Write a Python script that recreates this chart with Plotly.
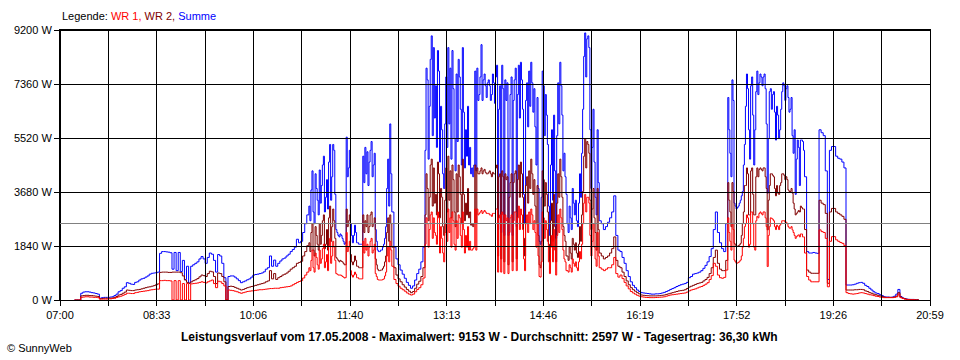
import pandas as pd
import plotly.graph_objects as go

N = None

# Main series: one value every 2 minutes from 07:00
START = "2008-05-17 07:00"
STEP_MIN = 2

WR1 = [
    N, N, N, N, N, N, N, 0, 0, 0,
    90, 100, 110, 110, 100, 100, 90, 90, 80, 30,
    30, 30, 30, 40, 40, 50, 60, 90, 110, 130,
    160, 190, 230, 230, 220, 220, 250, 260, 280, 290,
    300, 310, 320, 340, 350, 360, 370, 370, 660, 660,
    670, 660, 660, 650, 0, 660, 0, 660, 0, 560,
    0, 560, 0, 550, 560, 570, 580, 600, 620, 600,
    580, 620, 650, 680, 560, 420, 640, 620, 560, 480,
    0, 340, 330, 320, 300, 280, 250, 230, 250, 270,
    290, 300, 310, 320, 330, 340, 350, 350, 360, 370,
    380, 390, 390, 400, 400, 400, 420, 430, 440, 450,
    460, 480, 520, 560, 600, 630, 660, 750, 850, 950,
    1100, 1350, 1100, 1600, 1200, 1700, 1400, 1900, 1300, 1000,
    2100, 1500, 1800, 900, 850, 850, 800, 750, 2300, 1800,
    1000, 780, 950, 760, 720, 720, 2000, 2100, 1900, 1800,
    2100, 1700, 900, 700, 680, 680, 720, 950, 1800, 2000,
    1150, 700, 560, 470, 400, 350, 300, 240, 200, 170,
    200, 280, 360, 420, 520, 750, 1900, 2600, 2400, 3000,
    2800, 2200, 3000, 1600, 2100, 1300, 2600, 3100, 2800, 3000,
    1900, 2700, 2900, 2200, 3000, 1600, 1800, 1700, 1700, 1750,
    3100, 3100, 2950, 3050, 3000, 3000, 2950, 2900, 2850, 2950,
    3100, 950, 2900, 3000, 900, 2700, 900, 2800, 1000, 3000,
    1000, 3200, 3100, 2400, 1000, 2900, 3000, 3100, 2400, 2300,
    2600, 800, 1300, 2800, 2700, 2000, 900, 2200, 2400, 850,
    2900, 3100, 2400, 1400, 1000, 950, 1100, 1400, 1150, 1100,
    1300, 1400, 2600, 3600, 3500, 3300, 1500, 2600, 1400, 2300,
    1100, 1050, 1000, 1050, 1100, 1100, 1200, 1450, 900, 780,
    850, 730, 600, 480, 380, 290, 240, 200, 160, 130,
    110, 100, 90, 85, 80, 80, 80, 85, 90, 95,
    100, 110, 130, 150, 170, 180, 190, 200, 210, 220,
    230, 240, 270, 310, 340, 360, 380, 410, 440, 460,
    500, 540, 590, 700, 830, 1250, 1150, 850, 760, 740,
    770, 1020, 2800, 2000, 2600, 1360, 1250, 1280, 1360, 1800,
    2500, 2900, 1800, 3000, 2600, 1700, 2850, 2950, 2950, 3000,
    2800, 1140, 2500, 2780, 2700, 2400, 2500, 2550, 2700, 2700,
    2650, 2500, 2450, 2390, 2200, 2160, 2220, 2250, 2150, 1600,
    800, 680, 620, 620, 620, 620, 2390, 2330, 2300, 2100,
    450, 2000, 2160, 2160, 2050, 2000, 1960, 1930, 1850, 250,
    220, 210, 200, 210, 220, 240, 250, 240, 220, 200,
    180, 170, 150, 130, 120, 100, 90, 80, 80, 80,
    80, 80, 90, 110, 200, 80, 50, 30, 20, 10,
    10, 10, 0, 0, 0, N, N, N, N, N,
]

WR2 = [
    N, N, N, N, N, N, N, 0, 0, 0,
    140, 150, 160, 160, 150, 150, 140, 130, 120, 40,
    50, 60, 60, 60, 60, 70, 90, 120, 170, 190,
    230, 270, 340, 330, 320, 320, 340, 350, 360, 380,
    400, 420, 440, 450, 470, 490, 520, 550, 940, 950,
    950, 950, 940, 940, 950, 950, 950, 950, 930, 820,
    680, 600, 570, 620, 660, 690, 730, 790, 850, 830,
    800, 900, 980, 960, 800, 560, 920, 900, 800, 620,
    0, 460, 470, 460, 430, 400, 370, 340, 360, 390,
    420, 440, 460, 480, 500, 520, 540, 560, 580, 620,
    650, 1000, 720, 900, 700, 760, 800, 850, 880, 920,
    980, 1050, 1100, 1150, 1250, 1280, 1320, 1500, 1650, 1850,
    1950, 2300, 1700, 2500, 1900, 2600, 2200, 2900, 1900, 1700,
    3200, 2500, 2700, 1450, 1350, 1350, 1300, 1200, 3100, 2700,
    1550, 1200, 1500, 1150, 1100, 1100, 2900, 2700, 2900, 2500,
    3000, 2600, 1400, 1050, 1000, 1020, 1150, 1500, 2800, 2900,
    1800, 1100, 850, 720, 620, 520, 440, 360, 300, 250,
    290, 400, 540, 640, 800, 1100, 2900, 3800, 3500, 4800,
    4500, 3600, 4700, 2800, 3500, 2200, 4500, 4900, 4400, 4600,
    3000, 4300, 4600, 3600, 4800, 2700, 2900, 2800, 2550, 2500,
    4600, 4500, 4300, 4500, 4400, 4350, 4300, 4400, 4200, 4300,
    4500, 1500, 4300, 4400, 1300, 4100, 1200, 4000, 1300, 4300,
    1400, 4600, 4700, 3500, 1500, 4200, 4400, 4800, 3600, 3200,
    3900, 1200, 2000, 4100, 4000, 3000, 1300, 3300, 3600, 1300,
    4300, 4800, 3500, 2200, 1500, 1350, 1600, 2100, 1700, 1600,
    1900, 2000, 3700, 5500, 5400, 5000, 2400, 3800, 2300, 3800,
    1600, 1500, 1400, 1450, 1500, 1600, 1750, 2150, 1350, 1150,
    1100, 950, 800, 650, 520, 420, 350, 300, 250, 210,
    170, 160, 150, 145, 140, 140, 140, 140, 145, 150,
    160, 170, 190, 210, 230, 250, 270, 290, 310, 320,
    330, 350, 390, 440, 470, 500, 530, 560, 580, 600,
    650, 700, 770, 900, 1100, 1450, 1700, 1250, 1050, 1000,
    1000, 1350, 4000, 3000, 4000, 1930, 1820, 1850, 1930, 2600,
    3900, 4500, 2900, 4400, 3600, 2900, 4500, 4450, 4450, 4500,
    4200, 2390, 3900, 4300, 4200, 3550, 3640, 3900, 4300, 4250,
    4200, 3750, 3700, 3640, 3100, 2950, 3050, 3200, 3100, 2400,
    1020, 950, 910, 910, 910, 910, 3400, 3300, 3250, 2950,
    570, 3000, 3120, 3120, 3000, 2950, 2900, 2850, 2750, 340,
    340, 340, 340, 350, 350, 360, 360, 350, 310, 290,
    250, 230, 200, 180, 160, 140, 120, 100, 90, 90,
    90, 90, 100, 130, 250, 100, 60, 40, 20, 20,
    10, 10, 10, 10, 0, N, N, N, N, N,
]

SUMME = [
    N, N, N, N, N, N, N, 0, 0, 0,
    230, 270, 280, 280, 270, 250, 240, 220, 200, 60,
    80, 90, 90, 90, 100, 110, 150, 200, 280, 320,
    400, 450, 590, 570, 540, 530, 600, 620, 680, 720,
    740, 780, 820, 880, 910, 920, 930, 950, 1590, 1650,
    1650, 1640, 1630, 1610, 1050, 1620, 1000, 1620, 970, 1350,
    700, 1150, 580, 1150, 1200, 1250, 1300, 1400, 1480, 1400,
    1250, 1450, 1600, 1560, 1350, 950, 1550, 1500, 1250, 760,
    0, 800, 820, 820, 780, 720, 660, 590, 620, 650,
    690, 720, 780, 850, 870, 880, 900, 920, 960, 1050,
    1100, 1500, 1150, 1360, 1150, 1250, 1330, 1400, 1430, 1500,
    1560, 1650, 1720, 1800, 2070, 1950, 2000, 2300, 2600, 2900,
    3200, 3750, 3000, 4300, 3400, 4430, 3900, 4900, 3500, 3100,
    5300, 4200, 5100, 2400, 2200, 2250, 2100, 1900, 5550, 4500,
    2600, 1950, 2550, 1950, 1900, 1900, 4900, 5200, 5050, 4700,
    5400, 4600, 2400, 1700, 1650, 1700, 1900, 2500, 4800, 6000,
    3000, 1800, 1400, 1200, 1020, 880, 740, 600, 500, 400,
    480, 680, 900, 1050, 1300, 1800, 5100, 7500, 6600, 9000,
    8600, 7300, 8500, 4700, 5800, 3800, 7600, 8600, 7900, 8500,
    5500, 7700, 8200, 6500, 8600, 4500, 4900, 4600, 4300, 4200,
    7800, 7900, 7000, 8700, 7500, 7300, 7400, 7300, 7000, 7400,
    7600, 2400, 7300, 8000, 2200, 6800, 2200, 7000, 2200, 7500,
    2500, 8000, 8100, 6500, 2600, 7400, 7800, 8100, 6400, 5900,
    6900, 2000, 3500, 7300, 7000, 5300, 2200, 5800, 6300, 2100,
    7400, 8100, 6300, 5000, 3600, 2300, 2800, 3800, 2900, 2700,
    3300, 3500, 6500, 9100, 8900, 8600, 3800, 6500, 3500, 5800,
    2700, 2600, 2400, 2500, 2650, 2800, 3000, 3550, 2200, 1700,
    1650, 1450, 1250, 1000, 800, 620, 500, 420, 340, 290,
    250, 240, 230, 220, 210, 200, 200, 210, 210, 220,
    240, 260, 290, 320, 360, 390, 420, 460, 490, 520,
    540, 560, 600, 760, 800, 880, 900, 920, 950, 1000,
    1080, 1180, 1300, 1480, 1750, 2400, 3000, 2300, 1950, 1750,
    1650, 2600, 6900, 5000, 7500, 3300, 3100, 3200, 3400, 3700,
    5300, 7700, 5800, 7300, 6300, 5800, 7800, 7400, 7600, 7600,
    7200, 3640, 7100, 6500, 7100, 5450, 6300, 5800, 7100, 7300,
    7200, 6900, 6500, 5600, 5800, 4800, 5200, 5450, 5400, 4200,
    1650, 1600, 1600, 1620, 1600, 1590, 5800, 5700, 5600, 4400,
    700, 5100, 5230, 5230, 4900, 4830, 4800, 4700, 4500, 510,
    510, 510, 520, 540, 570, 590, 600, 570, 500, 460,
    400, 340, 280, 240, 220, 180, 150, 110, 100, 100,
    90, 100, 130, 200, 360, 120, 70, 50, 30, 20,
    20, 20, 10, 10, 10, N, N, N, N, N,
]

# Extra readings at the odd minutes inside the three very spiky stretches
# (every 2 minutes, starting at the given time)
DENSE_1_START = "11:01"
DENSE_1_WR1 = [
    1000, 1700, 950, 1450, 1050, 1250, 1750, 1100, 1550, 1850,
    1250, 2000, 1350, 880, 850, 840, 780, 760, 1650, 2000,
    850, 850, 880, 760, 720, 720, 1600, 1700, 1500, 2000,
    1600, 1900, 800, 680, 680, 700, 820, 1500, 1300, 1700,
]
DENSE_1_WR2 = [
    1650, 2600, 1500, 2200, 1700, 1900, 2700, 1750, 2400, 2800,
    2000, 3100, 2100, 1400, 1300, 1320, 1250, 1200, 2500, 2900,
    1300, 1300, 1350, 1150, 1100, 1100, 2300, 2500, 2300, 2900,
    2500, 2800, 1200, 1000, 1020, 1080, 1300, 2300, 2000, 2600,
]
DENSE_1_SUMME = [
    2700, 4400, 2600, 3800, 2900, 3300, 4600, 3000, 4100, 4700,
    3400, 5300, 3600, 2300, 2150, 2200, 2000, 1950, 4200, 5100,
    2200, 2200, 2300, 1950, 1900, 1900, 4000, 4300, 3900, 5100,
    4200, 5000, 2000, 1650, 1700, 1800, 2100, 3800, 3200, 4300,
]

DENSE_2_START = "12:53"
DENSE_2_WR1 = [
    2800, 1800, 2900, 2100, 2300, 1900, 2800, 2500, 1600, 2300,
    2000, 2300, 1800, 2700, 1700, 2100, 2800, 1800, 2400, 2200,
    2500, 2000, 1700, 1800, 1700, 2900, 3000, 2950, 3050, 2950,
    2950, 2900, 2950, 2950, 3100, 2800, 950, 2900, 2900, 2800,
    2300, 2900, 2700, 3000, 2800, 2400, 2900, 1400, 2600, 2300,
    2600, 2900, 2700, 1800, 1500, 780, 3000, 2100, 2400, 1300,
    1800, 1300, 1700, 2200, 2300, 2800, 1700, 1300, 1000, 1200,
    950, 1250, 1300, 1000, 1650, 1900, 3300, 3000, 3500, 2200,
    2000, 1800, 1150, 1500,
]
DENSE_2_WR2 = [
    4300, 2700, 4600, 3200, 3300, 2900, 4300, 3800, 2500, 3400,
    3000, 3400, 2800, 4100, 2500, 3000, 4200, 2600, 3600, 3300,
    3800, 3000, 2600, 2600, 2600, 4300, 4400, 4300, 4450, 4300,
    4350, 4300, 4350, 4300, 4600, 4200, 1400, 4200, 4300, 4200,
    3500, 4300, 4000, 4400, 4100, 3500, 4300, 2100, 3900, 3300,
    3800, 4300, 4100, 2600, 2200, 1100, 4400, 3200, 3600, 1900,
    2700, 2000, 2500, 3300, 3500, 4200, 2500, 2000, 1500, 1800,
    1400, 1900, 1950, 1450, 2500, 2900, 4900, 4500, 5300, 3400,
    3100, 2800, 1700, 2400,
]
DENSE_2_SUMME = [
    7900, 4800, 8200, 5600, 6200, 5200, 7800, 6600, 4300, 6000,
    5200, 6000, 4800, 7200, 4400, 5400, 7600, 4600, 6400, 5800,
    6600, 5200, 4500, 4600, 4400, 6800, 7600, 6800, 7700, 6900,
    7500, 6800, 7700, 6700, 8000, 6500, 2300, 7200, 7500, 7400,
    5500, 7600, 6800, 7900, 7000, 6200, 7500, 3600, 6800, 5900,
    6600, 7400, 7200, 4600, 3800, 1900, 7800, 5600, 6300, 3200,
    4600, 3400, 4400, 5600, 6000, 7300, 4400, 4200, 2600, 3200,
    2400, 3300, 3400, 2500, 4300, 5000, 8300, 7600, 9000, 5800,
    5200, 4700, 2900, 4000,
]

DENSE_3_START = "17:45"
DENSE_3_WR1 = [
    2300, 1700, 2400, 1300, 1260, 1320, 1500, 2100, 2600, 2800,
    1900, 3000, 1800, 2700, 2800, 3000, 2900, 3000, 2500, 2200,
    2800, 2750, 2500, 2550, 2400, 2600, 2700, 2650, 2600, 2450,
    2500, 2300, 2100, 2200, 2150, 2250, 2150,
]
DENSE_3_WR2 = [
    3400, 2500, 3700, 1880, 1830, 1880, 2200, 3000, 3900, 4300,
    2900, 4500, 2900, 4200, 4200, 4500, 4400, 4500, 3800, 3400,
    4300, 4250, 3800, 3900, 3600, 4000, 4300, 4100, 4100, 3700,
    3800, 3300, 2900, 3000, 3000, 3150, 3100,
]
DENSE_3_SUMME = [
    5800, 4200, 6800, 3200, 3150, 3300, 3550, 4600, 6600, 7200,
    4800, 7600, 4600, 7100, 7000, 7700, 7300, 7700, 6000, 5500,
    7200, 7000, 6400, 6600, 5500, 6500, 7400, 6800, 7300, 6400,
    6900, 5000, 3600, 5450, 3900, 5450, 5100,
]

X_TICK_LABELS = ["07:00", "08:33", "10:06", "11:40", "13:13",
                 "14:46", "16:19", "17:52", "19:26", "20:59"]
Y_TICKS = [0, 1840, 3680, 5520, 7360, 9200]
Y_TICK_LABELS = ["0 W", "1840 W", "3680 W", "5520 W", "7360 W", "9200 W"]
AVERAGE_W = 2597
TITLE = ("Leistungsverlauf vom 17.05.2008 - Maximalwert: 9153 W - "
         "Durchschnitt: 2597 W - Tagesertrag: 36,30 kWh")

FONT = "Liberation Sans, Arial, sans-serif"


def ts(t):
    return t.strftime("%Y-%m-%d %H:%M:%S") + ".%03d" % (t.microsecond // 1000)


t0 = pd.Timestamp(START)
day = START.split(" ")[0]

# merge the regular readings and the extra odd-minute readings by time
rows = {}
for k, vals in enumerate(zip(WR1, WR2, SUMME)):
    rows[t0 + pd.Timedelta(minutes=STEP_MIN * k)] = vals
for start, w1, w2, s in [(DENSE_1_START, DENSE_1_WR1, DENSE_1_WR2, DENSE_1_SUMME),
                         (DENSE_2_START, DENSE_2_WR1, DENSE_2_WR2, DENSE_2_SUMME),
                         (DENSE_3_START, DENSE_3_WR1, DENSE_3_WR2, DENSE_3_SUMME)]:
    bt = pd.Timestamp(day + " " + start)
    for k, vals in enumerate(zip(w1, w2, s)):
        rows[bt + pd.Timedelta(minutes=STEP_MIN * k)] = vals
order = sorted(rows)
times = [ts(t) for t in order]
s_wr1 = [rows[t][0] for t in order]
s_wr2 = [rows[t][1] for t in order]
s_sum = [rows[t][2] for t in order]

t_end = pd.Timestamp(day + " " + X_TICK_LABELS[-1])
n_div = 2 * (len(X_TICK_LABELS) - 1)
grid_x = [ts(t0 + (t_end - t0) * k / n_div) for k in range(n_div + 1)]
grid_text = [X_TICK_LABELS[k // 2] if k % 2 == 0 else "" for k in range(n_div + 1)]

fig = go.Figure()
for name, vals, color in [("Summe", s_sum, "#0000FF"),
                          ("WR 2", s_wr2, "#800000"),
                          ("WR 1", s_wr1, "#FF0000")]:
    fig.add_trace(go.Scatter(x=times, y=vals, name=name, mode="lines",
                             line=dict(color=color, width=1, shape="hv"),
                             connectgaps=False, hoverinfo="skip"))

shapes = []
for gx in grid_x:
    shapes.append(dict(type="line", xref="x", yref="paper", x0=gx, x1=gx, y0=0, y1=1,
                       line=dict(color="black", width=1), layer="above"))
for gy in Y_TICKS:
    shapes.append(dict(type="line", xref="paper", yref="y", x0=0, x1=1, y0=gy, y1=gy,
                       line=dict(color="black", width=1), layer="above"))
shapes.append(dict(type="line", xref="paper", yref="y", x0=0, x1=1,
                   y0=AVERAGE_W, y1=AVERAGE_W,
                   line=dict(color="#808080", width=1), layer="above"))

axis_common = dict(showgrid=False, zeroline=False, showline=True, mirror=True,
                   linecolor="black", linewidth=1, ticks="outside", ticklen=5,
                   tickcolor="black", tickwidth=1,
                   tickfont=dict(family=FONT, size=11, color="black"))

fig.update_layout(
    width=960, height=360, autosize=False,
    margin=dict(l=60, r=30, t=30, b=60, pad=0),
    paper_bgcolor="white", plot_bgcolor="white",
    showlegend=False,
    shapes=shapes,
    xaxis=dict(type="date", range=[grid_x[0], grid_x[-1]],
               tickmode="array", tickvals=grid_x, ticktext=grid_text,
               **axis_common),
    yaxis=dict(range=[Y_TICKS[0], Y_TICKS[-1]], tickmode="array",
               tickvals=Y_TICKS, ticktext=Y_TICK_LABELS, **axis_common),
    annotations=[
        dict(xref="paper", yref="paper", x=0, y=1.052, xanchor="left", yanchor="middle",
             showarrow=False, font=dict(family=FONT, size=11, color="black"),
             text=("Legende: <span style='color:#FF0000'>WR 1,</span> "
                   "<span style='color:#800000'>WR 2,</span> "
                   "<span style='color:#0000FF'>Summe</span>")),
        dict(xref="paper", yref="paper", x=0.4822, y=-0.136, xanchor="center",
             yanchor="middle", showarrow=False,
             font=dict(family=FONT, size=12, color="black"),
             text="<b>" + TITLE + "</b>"),
        dict(xref="paper", yref="paper", x=-0.0632, y=-0.178, xanchor="left",
             yanchor="middle", showarrow=False,
             font=dict(family=FONT, size=11, color="black"),
             text="© SunnyWeb"),
    ],
)

fig.write_html(
    "out.html",
    config={"displayModeBar": False, "staticPlot": True},
    post_script=(
        "document.body.style.margin='0';"
        "document.body.style.padding='0';"
        "document.body.style.overflow='hidden';"
        "var s=document.createElement('style');"
        "s.innerHTML='.shapelayer path{shape-rendering:crispEdges}';"
        "document.head.appendChild(s);"
    ),
)
